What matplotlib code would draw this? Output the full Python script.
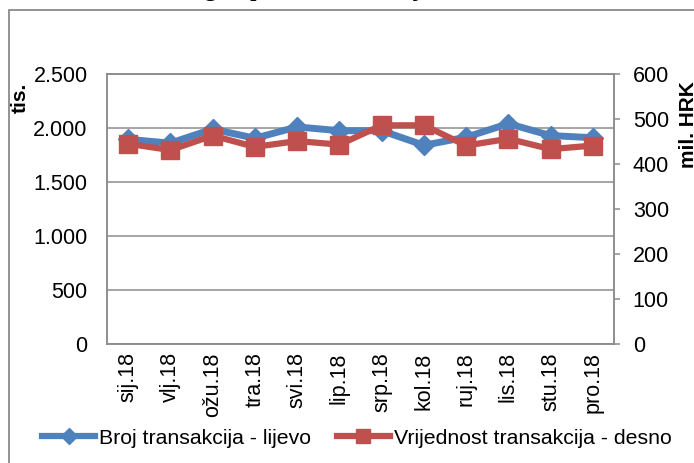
import matplotlib
matplotlib.use("Agg")
import matplotlib.pyplot as plt
from matplotlib.lines import Line2D
from matplotlib.patches import Rectangle

months = ["sij.18", "vlj.18", "ožu.18", "tra.18", "svi.18", "lip.18",
          "srp.18", "kol.18", "ruj.18", "lis.18", "stu.18", "pro.18"]
broj = [1895, 1860, 1990, 1905, 2010, 1975, 1975, 1840, 1915, 2040, 1930, 1910]
vrijednost = [445, 431, 463, 438, 451, 443, 486, 486, 441, 456, 433, 441]
left_ticks = [0, 500, 1000, 1500, 2000, 2500]
left_labels = ["0", "500", "1.000", "1.500", "2.000", "2.500"]
right_ticks = [0, 100, 200, 300, 400, 500, 600]

plt.rcParams['font.family'] = ['Liberation Sans', 'DejaVu Sans']
W, H = 694, 463
fig = plt.figure(figsize=(W / 100, H / 100), dpi=100)

BLUE = "#4F81BD"
RED = "#C0504D"
GRID = "#8c8c8c"

# outer frame (cut off at right and bottom)
fig.patches.append(Rectangle((9 / W, -0.1), 1.2, (H - 10) / H + 0.1,
                             transform=fig.transFigure, fill=False,
                             edgecolor="#8a8a8a", linewidth=1.3))
# cut-off title (only descenders visible)
fig.text(172 / W, 1 + 4.5 / H, "Pregled platnih transakcija", fontsize=16,
         fontweight="bold", family="Liberation Serif", ha="left", va="baseline")

ax = fig.add_axes([107 / W, 1 - 344 / H, 507 / W, 270 / H])
x = list(range(len(months)))
ax.plot(x, broj, color=BLUE, lw=5, marker="D", markersize=10, zorder=3)
ax.set_ylim(0, 2500)
ax.set_xlim(-0.5, 11.5)
ax.set_yticks(left_ticks)
ax.set_yticklabels(left_labels)
ax.set_xticks(x)
ax.set_xticklabels(months, rotation=90)
ax.tick_params(axis="y", length=0, pad=14, labelsize=15.5)
ax.tick_params(axis="x", length=0, pad=6, labelsize=15.5)
ax.grid(axis="y", color=GRID, lw=1.1)
ax.set_axisbelow(True)
for s in ax.spines.values():
    s.set_color(GRID)
    s.set_linewidth(1.1)

ax2 = ax.twinx()
ax2.plot(x, vrijednost, color=RED, lw=4.5, marker="s", markersize=13.5, zorder=4)
ax2.set_ylim(0, 600)
ax2.set_yticks(right_ticks)
ax2.tick_params(axis="y", length=4.5, width=1.1, color=GRID, pad=9, labelsize=15.5)
for s in ax2.spines.values():
    s.set_color(GRID)
    s.set_linewidth(1.1)

fig.text(20 / W, 1 - 98 / H, "tis.", rotation=90, fontsize=15, fontweight="bold",
         ha="center", va="center")
fig.text(689 / W, 1 - 125 / H, "mil. HRK", rotation=90, fontsize=15, fontweight="bold",
         ha="center", va="center")

handles = [Line2D([], [], color=BLUE, lw=4.5, marker="D", markersize=8),
           Line2D([], [], color=RED, lw=4.5, marker="s", markersize=10)]
fig.legend(handles, ["Broj transakcija - lijevo", "Vrijednost transakcija - desno"],
           loc="center", bbox_to_anchor=(357 / W, 1 - 438 / H), ncol=2, frameon=False,
           fontsize=15.3, handlelength=2.5, handletextpad=0.2, columnspacing=1.2,
           borderpad=0, borderaxespad=0)

fig.savefig("out.png", dpi=100)
